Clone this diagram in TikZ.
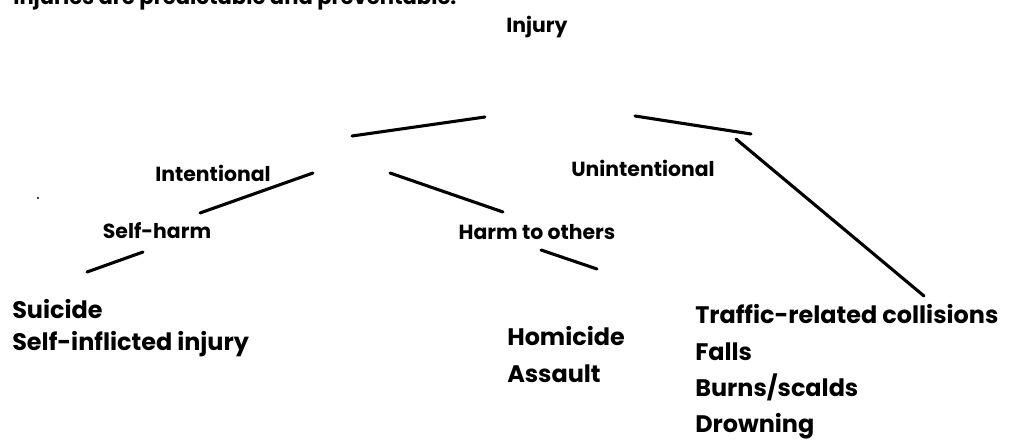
\documentclass[tikz,border=0pt]{standalone}
\usepackage{fontspec}
\setmainfont{Poppins}
\usetikzlibrary{calc}

\begin{document}
\begin{tikzpicture}[x=0.025cm,y=-0.025cm,line join=round,line cap=round,
  stroke/.style={line width=2.2pt},
  catlabel/.style={anchor=base, inner sep=0pt, font=\fontsize{14.5}{16}\selectfont\bfseries},
  listitem/.style={anchor=base west, inner sep=0pt, font=\fontsize{17}{20}\selectfont\bfseries}]

  \useasboundingbox (0,0) rectangle (1012,440);

  % heading line, cut off at the top edge
  \node[anchor=base west, inner sep=0pt, font=\fontsize{15}{17}\selectfont\bfseries] (head) at (13,5) {Injuries are predictable and preventable.};

  % 1. top of the tree
  \node[catlabel] (injury) at (537,33) {Injury};
  \coordinate (l1a) at (352,136);  \coordinate (l1b) at (485,117);
  \coordinate (l2a) at (635,116);  \coordinate (l2b) at (751,134);
  \draw[stroke] (l1a) -- (l1b);
  \draw[stroke] (l2a) -- (l2b);

  % 2. intentional branch
  \node[catlabel] (intent) at (213,181) {Intentional};
  \coordinate (l4a) at (200,213);  \coordinate (l4b) at (313,173);
  \coordinate (l5a) at (390,173);  \coordinate (l5b) at (503,212);
  \draw[stroke] (l4a) -- (l4b);
  \draw[stroke] (l5a) -- (l5b);

  \node[catlabel] (selfharm) at (157,238) {Self-harm};
  \coordinate (l6a) at (87,272);   \coordinate (l6b) at (143,252);
  \draw[stroke] (l6a) -- (l6b);
  \node[listitem] (suicide) at (12,318) {Suicide};
  \node[listitem] (selfinf) at (12,350) {Self-inflicted injury};

  \node[catlabel] (others) at (537,239) {Harm to others};
  \coordinate (l7a) at (541,250);  \coordinate (l7b) at (597,269);
  \draw[stroke] (l7a) -- (l7b);
  \node[listitem] (homicide) at (507,345) {Homicide};
  \node[listitem] (assault) at (507,382) {Assault};

  % 3. unintentional branch
  \node[catlabel] (unintent) at (643,176) {Unintentional};
  \coordinate (l3a) at (736,139);  \coordinate (l3b) at (924,296);
  \draw[stroke] (l3a) -- (l3b);
  \node[listitem] (traffic) at (695,323) {Traffic-related collisions};
  \node[listitem] (falls) at (695,360) {Falls};
  \node[listitem] (burns) at (695,396) {Burns/scalds};
  \node[listitem] (drown) at (695,432) {Drowning};

  % stray dot
  \fill (38,198) circle (1.2);

\end{tikzpicture}
\end{document}
